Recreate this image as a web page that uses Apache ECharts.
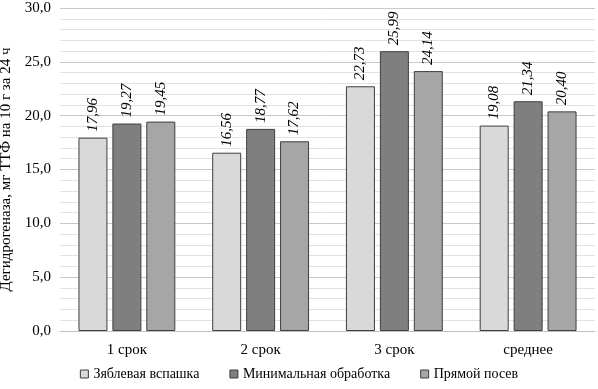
<!DOCTYPE html>
<html><head><meta charset="utf-8">
<script src="https://cdn.jsdelivr.net/npm/echarts@6/dist/echarts.min.js"></script>
<style>html,body{margin:0;padding:0;background:#fff}#c{width:598px;height:389px}</style>
</head><body><div id="c"></div>
<script>
const categories = ['1 срок', '2 срок', '3 срок', 'среднее'];
const seriesNames = ['Зяблевая вспашка', 'Минимальная обработка', 'Прямой посев'];
const zyab = [17.96, 16.56, 22.73, 19.08];
const minim = [19.27, 18.77, 25.99, 21.34];
const pryam = [19.45, 17.62, 24.14, 20.40];
const colors = ['#d9d9d9', '#7f7f7f', '#a6a6a6'];
const font = '"Liberation Serif", "Times New Roman", serif';
const chart = echarts.init(document.getElementById('c'));
function mk(name, data, color) {
  return {
    name, type: 'bar', data,
    barWidth: 29, barGap: '17%',
    itemStyle: { color, borderColor: '#3f3f3f', borderWidth: 1 },
    label: {
      show: true, position: 'top', rotate: 90, align: 'left', verticalAlign: 'middle',
      distance: 6, fontFamily: font, fontStyle: 'italic', fontSize: 15, color: '#000',
      formatter: p => p.value.toFixed(2).replace('.', ',')
    }
  };
}
chart.setOption({
  animation: false,
  grid: { left: 60, right: 3, top: 8, bottom: 58, containLabel: false, outerBoundsMode: 'none' },
  legend: {
    bottom: 3, left: 'center', itemWidth: 8, itemHeight: 8, itemGap: 30,
    textStyle: { fontFamily: font, fontSize: 14, color: '#000' },
    icon: 'rect', itemStyle: { borderColor: '#3f3f3f', borderWidth: 1 }
  },
  xAxis: {
    type: 'category', data: categories,
    axisTick: { show: false },
    axisLine: { lineStyle: { color: '#bfbfbf' } },
    axisLabel: { fontFamily: font, fontSize: 15, color: '#000', margin: 12 }
  },
  yAxis: {
    type: 'value', min: 0, max: 30, interval: 1,
    name: 'Дегидрогеназа, мг ТТФ на 10 г за 24 ч', nameLocation: 'middle', nameGap: 43,
    nameTextStyle: { fontFamily: font, fontSize: 15, color: '#000' },
    axisLabel: { fontFamily: font, fontSize: 15, color: '#000', margin: 9,
      formatter: v => (v % 5 === 0 ? v.toFixed(1).replace('.', ',') : '') },
    splitLine: { lineStyle: { color: ['#c8c8c8', '#e2e2e2', '#e2e2e2', '#e2e2e2', '#e2e2e2'] } }
  },
  series: [mk(seriesNames[0], zyab, colors[0]), mk(seriesNames[1], minim, colors[1]), mk(seriesNames[2], pryam, colors[2])]
});
</script></body></html>
